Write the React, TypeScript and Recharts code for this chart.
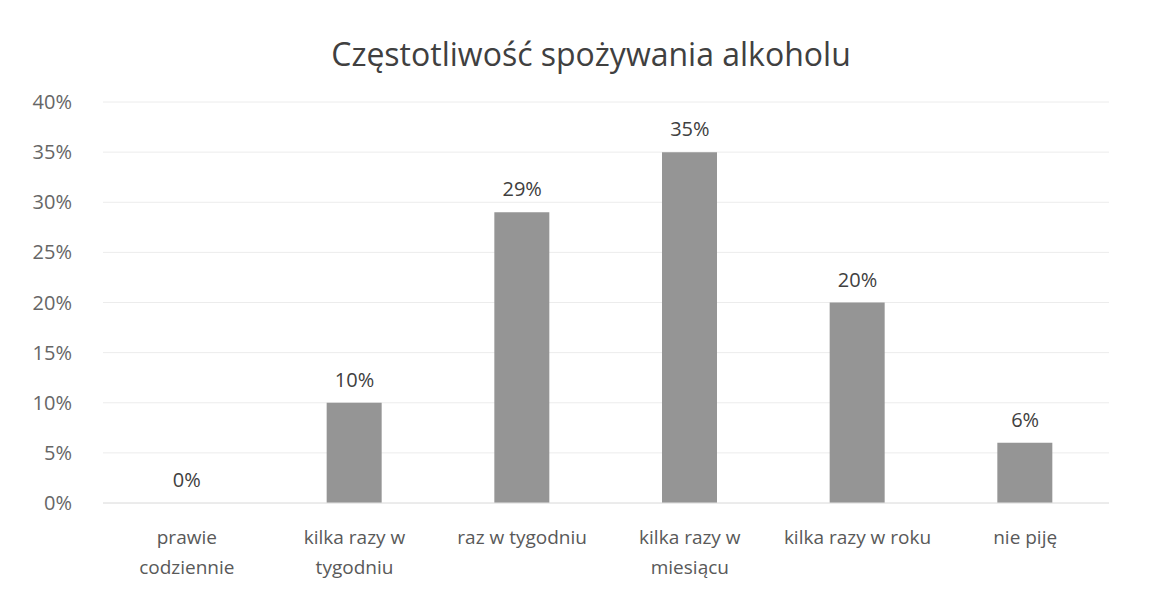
import {
  ComposedChart,
  Bar,
  Line,
  XAxis,
  YAxis,
  CartesianGrid,
  LabelList,
} from "recharts";

const categories = [
  "prawie\ncodziennie",
  "kilka razy w\ntygodniu",
  "raz w tygodniu",
  "kilka razy w\nmiesiącu",
  "kilka razy w roku",
  "nie piję",
];
const shares = [0, 10, 29, 35, 20, 6];
const yTicks = [0, 5, 10, 15, 20, 25, 30, 35, 40];

const data = categories.map((name, i) => ({ name, value: shares[i] }));

const FONT = "'Open Sans', sans-serif";

function CategoryTick({ x, y, payload }: any) {
  const lines = String(payload.value).split("\n");
  return (
    <text
      x={x}
      y={y}
      textAnchor="middle"
      fill="#595959"
      fontSize={19}
      fontFamily={FONT}
    >
      {lines.map((line, i) => (
        <tspan key={i} x={x} dy={i === 0 ? 7 : 30}>
          {line}
        </tspan>
      ))}
    </text>
  );
}

// labels hang off an invisible line so the 0% bar gets one too
function ValueLabel({ x, y, value }: any) {
  return (
    <text
      x={x}
      y={Number(y) - 16}
      textAnchor="middle"
      fill="#404040"
      fontSize={20}
      fontFamily={FONT}
    >
      {`${value}%`}
    </text>
  );
}

export default function App() {
  return (
    <div
      style={{
        position: "fixed",
        left: 0,
        top: 0,
        width: 1150,
        height: 596,
        background: "#fff",
      }}
    >
      <div
        style={{
          position: "absolute",
          top: 32,
          left: 0,
          width: 1182,
          textAlign: "center",
          fontFamily: FONT,
          fontSize: 32,
          color: "#404040",
        }}
      >
        Częstotliwość spożywania alkoholu
      </div>
      <ComposedChart
        width={1150}
        height={596}
        data={data}
        margin={{ top: 102, right: 41, bottom: 13, left: 0 }}
      >
        <CartesianGrid vertical={false} stroke="#ececec" />
        <XAxis
          dataKey="name"
          interval={0}
          axisLine={{ stroke: "#e2e2e2" }}
          tickLine={false}
          tickSize={0}
          tickMargin={34}
          height={80}
          tick={<CategoryTick />}
        />
        <YAxis
          domain={[0, 40]}
          ticks={yTicks}
          width={103}
          axisLine={false}
          tickLine={false}
          tickSize={0}
          tickMargin={31}
          tickFormatter={(v) => `${v}%`}
          tick={{ fill: "#666", fontSize: 20, fontFamily: FONT }}
        />
        <Bar dataKey="value" fill="#959595" barSize={55} isAnimationActive={false} />
        <Line
          dataKey="value"
          stroke="none"
          dot={false}
          activeDot={false}
          legendType="none"
          isAnimationActive={false}
        >
          <LabelList dataKey="value" content={<ValueLabel />} />
        </Line>
      </ComposedChart>
    </div>
  );
}
